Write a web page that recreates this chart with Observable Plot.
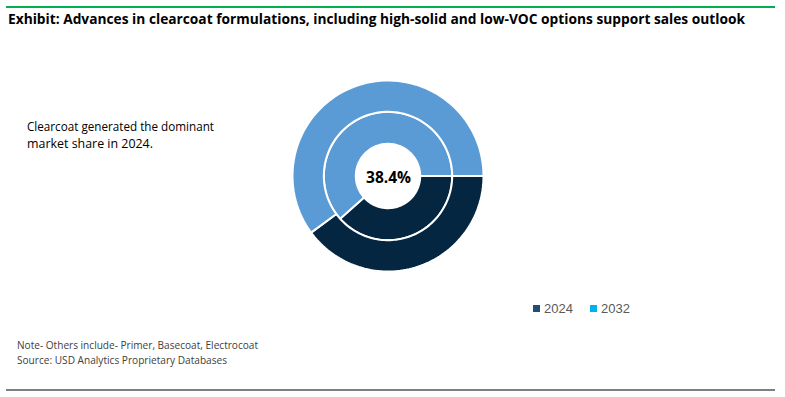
<!DOCTYPE html>
<html>
<head>
<meta charset="utf-8">
<script src="https://cdn.jsdelivr.net/npm/d3@7"></script>
<script src="https://cdn.jsdelivr.net/npm/@observablehq/plot@0.6"></script>
<style>
  html, body { margin: 0; padding: 0; background: #fff; }
  #wrap { position: relative; width: 785px; height: 397px; overflow: hidden; font-family: "Open Sans", "Noto Sans", sans-serif; }
  .t { position: absolute; white-space: nowrap; transform-origin: 0 0; line-height: 1; }
  .hr { position: absolute; }
  .sw { position: absolute; width: 7px; height: 7px; }
</style>
</head>
<body>
<div id="wrap"></div>
<script>
// ---- data ----
const title = "Exhibit: Advances in clearcoat formulations, including high-solid and low-VOC options support sales outlook";
const annotation = ["Clearcoat generated the dominant", "market share in 2024."];
const notes = ["Note- Others include- Primer, Basecoat, Electrocoat", "Source: USD Analytics Proprietary Databases"];
const years = ["2024", "2032"];
const segments = ["Clearcoat", "Others"];
const share2024 = [38.4, 61.6];   // inner ring
const share2032 = [39.9, 60.1];   // outer ring
const centerLabel = "38.4%";
const segColors = ["#052641", "#5B9BD5"];
const legendColors = ["#1F4E79", "#00B0F0"];

// ring radii (unit circle)
const rings = [
  {year: "2024", shares: share2024, r0: 0.337, r1: 0.672},
  {year: "2032", shares: share2032, r0: 0.672, r1: 1.0}
];

// build band points (polar -> cartesian) for every slice
const bandRows = [];
for (const ring of rings) {
  let start = 90; // degrees, clockwise from 12 o'clock
  ring.shares.forEach((s, i) => {
    const span = s * 3.6;
    const n = 80;
    for (let k = 0; k <= n; k++) {
      const a = (start + span * k / n) * Math.PI / 180;
      bandRows.push({
        key: ring.year + "-" + segments[i],
        seg: segments[i],
        x1: ring.r1 * Math.sin(a), y1: ring.r1 * Math.cos(a),
        x2: ring.r0 * Math.sin(a), y2: ring.r0 * Math.cos(a)
      });
    }
    start += span;
  });
}

const W = 785, H = 397;
const cx = 388, cy = 176, R = 95.5;
const chart = Plot.plot({
  width: W, height: H,
  marginLeft: cx - R, marginRight: W - (cx + R),
  marginTop: cy - R, marginBottom: H - (cy + R),
  x: {domain: [-1, 1], axis: null},
  y: {domain: [-1, 1], axis: null},
  color: {domain: segments, range: segColors},
  style: {background: "transparent", overflow: "visible"},
  marks: [
    Plot.area(bandRows, {x1: "x1", y1: "y1", x2: "x2", y2: "y2", z: "key", fill: "seg",
      stroke: "white", strokeWidth: 2, strokeLinejoin: "miter", curve: "linear"}),
    Plot.text([centerLabel], {x: () => 0, y: () => 0, text: d => d, dy: 2,
      fontSize: 15.5, fontWeight: "bold", fill: "#000", fontFamily: "Open Sans"})
  ]
});
chart.style.position = "absolute";
chart.style.left = "0px";
chart.style.top = "0px";
const wrap = document.getElementById("wrap");
wrap.appendChild(chart);

function addText(str, x, y, size, opts = {}) {
  const el = document.createElement("div");
  el.className = "t";
  el.textContent = str;
  el.style.left = x + "px";
  el.style.top = y + "px";
  el.style.fontSize = size + "px";
  el.style.fontFamily = opts.family || "Open Sans";
  el.style.fontWeight = opts.weight || "normal";
  el.style.color = opts.color || "#000";
  wrap.appendChild(el);
  if (opts.width) {
    const w = el.getBoundingClientRect().width;
    el.style.transform = `scaleX(${opts.width / w})`;
  }
  return el;
}
function addLine(x, y, w, h, color) {
  const el = document.createElement("div");
  el.className = "hr";
  Object.assign(el.style, {left: x + "px", top: y + "px", width: w + "px", height: h + "px", background: color});
  wrap.appendChild(el);
}

addLine(6, 6, 769, 2, "#00B050");
addLine(6, 389, 769, 1.5, "#7F7F7F");

addText(title, 8, 12, 14, {weight: "bold", width: 737});
addText(annotation[0], 27, 121, 12.5, {width: 187, color: "#000"});
addText(annotation[1], 27, 138, 12.5, {width: 126, color: "#000"});
addText(notes[0], 17, 340, 10, {width: 241, color: "#404040"});
addText(notes[1], 17, 355, 10, {width: 210, color: "#404040"});

// legend
const legendX = [533, 590];
years.forEach((yr, i) => {
  const sw = document.createElement("div");
  sw.className = "sw";
  sw.style.left = legendX[i] + "px";
  sw.style.top = "304.5px";
  sw.style.background = legendColors[i];
  wrap.appendChild(sw);
  addText(yr, legendX[i] + 11, 301.5, 13, {family: "Liberation Sans", color: "#595959"});
});
</script>
</body>
</html>
